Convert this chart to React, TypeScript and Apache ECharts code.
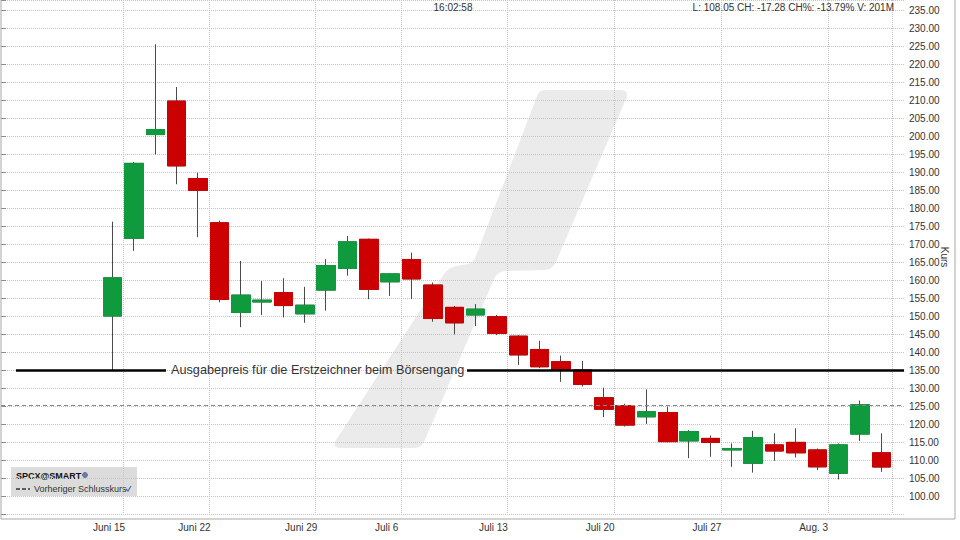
import React, { useEffect, useRef } from "react";
import * as echarts from "echarts";

// ---- data ----
const dates = [
  "2026-06-12",
  "2026-06-15", "2026-06-16", "2026-06-17", "2026-06-18",
  "2026-06-22", "2026-06-23", "2026-06-24", "2026-06-25", "2026-06-26",
  "2026-06-29", "2026-06-30", "2026-07-01", "2026-07-02",
  "2026-07-06", "2026-07-07", "2026-07-08", "2026-07-09", "2026-07-10",
  "2026-07-13", "2026-07-14", "2026-07-15", "2026-07-16", "2026-07-17",
  "2026-07-20", "2026-07-21", "2026-07-22", "2026-07-23", "2026-07-24",
  "2026-07-27", "2026-07-28", "2026-07-29", "2026-07-30", "2026-07-31",
  "2026-08-03", "2026-08-04", "2026-08-05",
];
const opens = [
  150.0,
  171.6, 200.4, 209.7, 188.2,
  175.9, 151.0, 153.9, 156.5, 150.6,
  157.2, 163.2, 171.3, 159.5,
  165.7, 158.6, 152.4, 150.3, 149.8,
  144.4, 140.7, 137.3, 135.0, 127.3,
  125.1, 122.0, 123.2, 115.3, 116.0,
  112.8, 109.1, 114.2, 114.9, 112.8,
  106.3, 117.2, 112.0,
];
const closes = [
  160.6,
  192.4, 201.8, 191.7, 184.9,
  154.6, 155.8, 154.4, 152.9, 153.0,
  164.0, 170.6, 157.4, 161.7,
  160.3, 149.3, 148.1, 151.9, 145.2,
  139.2, 135.9, 135.2, 131.0, 124.1,
  119.7, 123.4, 115.1, 117.9, 114.9,
  113.2, 116.2, 112.5, 112.0, 108.1,
  114.2, 125.33, 108.05,
];
const lows = [
  135.0,
  168.1, 194.9, 186.6, 171.9,
  153.8, 146.9, 150.3, 149.6, 148.1,
  151.5, 161.2, 154.7, 155.6,
  154.7, 148.4, 144.9, 147.2, 144.7,
  136.4, 135.5, 131.7, 130.4, 121.9,
  119.3, 120.0, 114.9, 110.5, 110.9,
  108.1, 106.5, 109.8, 110.7, 107.2,
  104.6, 115.3, 106.7,
];
const highs = [
  176.2,
  192.8, 225.5, 213.6, 189.8,
  176.5, 165.3, 159.7, 160.5, 158.1,
  165.8, 172.2, 171.5, 161.9,
  167.6, 159.3, 152.8, 153.3, 150.3,
  144.7, 143.1, 139.0, 137.5, 130.1,
  125.6, 129.6, 124.8, 118.3, 116.8,
  114.6, 118.1, 117.4, 118.8, 113.2,
  114.6, 126.5, 117.4,
];
const weekStarts = [
  "2026-06-15", "2026-06-22", "2026-06-29", "2026-07-06",
  "2026-07-13", "2026-07-20", "2026-07-27", "2026-08-03",
];
const weekLabels = [
  "Juni 15", "Juni 22", "Juni 29", "Juli 6",
  "Juli 13", "Juli 20", "Juli 27", "Aug. 3",
];
const yMin = 95;
const yMax = 237.78;
const yStep = 5;
const yLabelMin = 100;
const yLabelMax = 235;
const ipoPrice = 135;
const ipoLabel = "Ausgabepreis für die Erstzeichner beim Börsengang";
const prevCloseLabel = "Vorheriger Schlusskurs";
const symbolName = "SPCX@SMART";
const timeStamp = "16:02:58";
const volumeText = "201M";
const axisName = "Kurs";

// ---- layout / style constants ----
const FONT = "'Liberation Sans', Arial, Helvetica, sans-serif";
const GREEN = "#0f9a3d";
const RED = "#cc0000";
const WICK = "#4a4a4a";
const GRIDC = "#c4c4c4";
const PLOT_W = 903; // grid 0 horizontal extent in px units
const IPO_LINE_START = 15;
const IPO_GAP_START = 165;
const IPO_GAP_END = 466;

const LOGO_D =
  "M 545 90 L 620 90 Q 630 90 626 99 L 556 262 Q 553 269 545 270 L 505 271 Q 497 272 494 279 L 424 442 Q 421 448 413 448 L 341 448 Q 331 448 336 440 L 444 274 Q 448 268 456 266 L 468 264 Q 474 262 476 256 L 537 96 Q 539 90 545 90 Z";

let logoRegistered = false;
function ensureLogo() {
  if (logoRegistered) return;
  echarts.graphic.registerShape("logo", echarts.graphic.extendPath(LOGO_D, {}) as any);
  logoRegistered = true;
}

export default function App() {
  const ref = useRef<HTMLDivElement>(null);

  useEffect(() => {
    if (!ref.current) return;
    ensureLogo();
    const chart = echarts.init(ref.current, undefined, { renderer: "svg" });

    const ohlc = dates.map((_, i) => [opens[i], closes[i], lows[i], highs[i]]);
    const bodies = dates.map((_, i) => [
      opens[i],
      closes[i],
      Math.min(opens[i], closes[i]),
      Math.max(opens[i], closes[i]),
    ]);
    const n = closes.length;
    const last = closes[n - 1];
    const prevClose = closes[n - 2];
    const ch = last - prevClose;
    const chPct = (ch / prevClose) * 100;
    const header = `L: ${last.toFixed(2)} CH: ${ch.toFixed(2)} CH%: ${chPct.toFixed(2)}% V: ${volumeText}`;

    const isWeekStart = (_i: number, v: string) => weekStarts.indexOf(v) >= 0;

    const option: any = {
      animation: false,
      backgroundColor: "#ffffff",
      textStyle: { fontFamily: FONT },
      grid: [
        { left: 1, right: 56, top: 0, bottom: 26, containLabel: false, outerBoundsMode: "none" },
        { left: 102, right: 68, top: 0, bottom: 26, containLabel: false, outerBoundsMode: "none" },
      ],
      xAxis: [
        { type: "value", gridIndex: 0, min: 0, max: PLOT_W, show: false },
        {
          type: "category",
          gridIndex: 1,
          data: dates,
          boundaryGap: true,
          axisLine: { show: false },
          axisTick: { show: false },
          axisLabel: {
            interval: isWeekStart,
            formatter: (v: string) => {
              const k = weekStarts.indexOf(v);
              return k >= 0 ? weekLabels[k] : "";
            },
            color: "#333",
            fontSize: 10,
            fontFamily: FONT,
            margin: 8,
            padding: [0, 50, 0, 0],
          },
          splitLine: {
            show: true,
            interval: isWeekStart,
            lineStyle: { type: "dotted", color: GRIDC, width: 1 },
          },
        },
      ],
      yAxis: [
        {
          type: "value",
          gridIndex: 0,
          position: "right",
          min: yMin,
          max: yMax,
          interval: yStep,
          name: axisName,
          nameLocation: "middle",
          nameRotate: -90,
          nameGap: 35,
          nameMoveOverlap: false,
          nameTextStyle: { color: "#333", fontSize: 10, fontFamily: FONT },
          axisLine: { show: false },
          axisTick: { show: true, length: 5, lineStyle: { color: "#888" } },
          axisLabel: {
            margin: 5,
            color: "#333",
            fontSize: 10,
            fontFamily: FONT,
            formatter: (v: number) =>
              v < yLabelMin || v > yLabelMax + 0.01 ? "" : v.toFixed(2),
          },
          splitLine: {
            show: true,
            lineStyle: { type: "dotted", color: GRIDC, width: 1 },
          },
        },
        { type: "value", gridIndex: 1, min: yMin, max: yMax, show: false },
      ],
      series: [
        {
          type: "candlestick",
          xAxisIndex: 1,
          yAxisIndex: 1,
          data: ohlc,
          barWidth: 19,
          silent: true,
          itemStyle: {
            color: WICK,
            color0: WICK,
            borderColor: WICK,
            borderColor0: WICK,
            borderWidth: 1,
          },
        },
        {
          type: "candlestick",
          xAxisIndex: 1,
          yAxisIndex: 1,
          data: bodies,
          barWidth: 19,
          silent: true,
          itemStyle: {
            color: GREEN,
            color0: RED,
            borderColor: GREEN,
            borderColor0: RED,
            borderWidth: 1,
          },
        },
        {
          type: "line",
          xAxisIndex: 0,
          yAxisIndex: 0,
          data: [],
          z: 5,
          silent: true,
          markLine: {
            symbol: ["none", "none"],
            silent: true,
            animation: false,
            data: [
              {
                yAxis: prevClose,
                lineStyle: { color: "#888", width: 1, type: [4, 3] },
                label: { show: false },
              },
              [
                {
                  coord: [IPO_LINE_START, ipoPrice],
                  lineStyle: { color: "#000", width: 2.5, type: "solid" },
                  label: {
                    show: true,
                    position: "end",
                    distance: 5,
                    formatter: ipoLabel,
                    color: "#333",
                    fontSize: 12.7,
                    fontFamily: FONT,
                  },
                },
                { coord: [IPO_GAP_START, ipoPrice] },
              ],
              [
                {
                  coord: [IPO_GAP_END, ipoPrice],
                  lineStyle: { color: "#000", width: 2.5, type: "solid" },
                  label: { show: false },
                },
                { coord: [PLOT_W, ipoPrice] },
              ],
            ],
          },
        },
      ],
      graphic: [
        {
          type: "logo",
          x: 0,
          y: 0,
          z: -10,
          silent: true,
          style: { fill: "#ebebeb" },
        },
        {
          type: "polyline",
          z: 20,
          silent: true,
          shape: { points: [[1, 0], [1, 519], [955, 519], [955, 0]] },
          style: { stroke: "#a8a8a8", lineWidth: 1, fill: "none" },
        },
        {
          type: "text",
          z: 20,
          x: 453,
          y: 7,
          style: {
            text: timeStamp,
            fill: "#333",
            fontSize: 10,
            fontFamily: FONT,
            align: "center",
            verticalAlign: "middle",
          },
        },
        {
          type: "text",
          z: 20,
          x: 894,
          y: 7,
          style: {
            text: header,
            fill: "#333",
            fontSize: 10,
            fontFamily: FONT,
            align: "right",
            verticalAlign: "middle",
          },
        },
        {
          type: "group",
          z: 20,
          children: [
            {
              type: "rect",
              shape: { x: 11, y: 467, width: 126, height: 29 },
              style: { fill: "#dcdcdc" },
            },
            {
              type: "text",
              x: 16,
              y: 476,
              style: {
                text: symbolName,
                fill: "#111",
                fontSize: 9,
                fontWeight: "bold",
                fontFamily: FONT,
                verticalAlign: "middle",
              },
            },
            {
              type: "circle",
              shape: { cx: 85, cy: 475, r: 2.5 },
              style: { fill: "#6d7fa6", stroke: "#3b4f7a", lineWidth: 0.6 },
            },
            {
              type: "line",
              shape: { x1: 16, y1: 489, x2: 30, y2: 489 },
              style: { stroke: "#333", lineWidth: 1.5, lineDash: [4, 2] },
            },
            {
              type: "text",
              x: 34,
              y: 489,
              style: {
                text: prevCloseLabel,
                fill: "#333",
                fontSize: 9,
                fontFamily: FONT,
                verticalAlign: "middle",
              },
            },
            {
              type: "polyline",
              shape: { points: [[126, 489], [128, 491], [131, 486]] },
              style: { stroke: "#4a6fb5", lineWidth: 1.2, fill: "none" },
            },
          ],
        },
      ],
    };

    chart.setOption(option);
    return () => {
      chart.dispose();
    };
  }, []);

  return (
    <div
      ref={ref}
      style={{
        position: "fixed",
        left: 0,
        top: 0,
        width: 960,
        height: 540,
        background: "#fff",
      }}
    />
  );
}
